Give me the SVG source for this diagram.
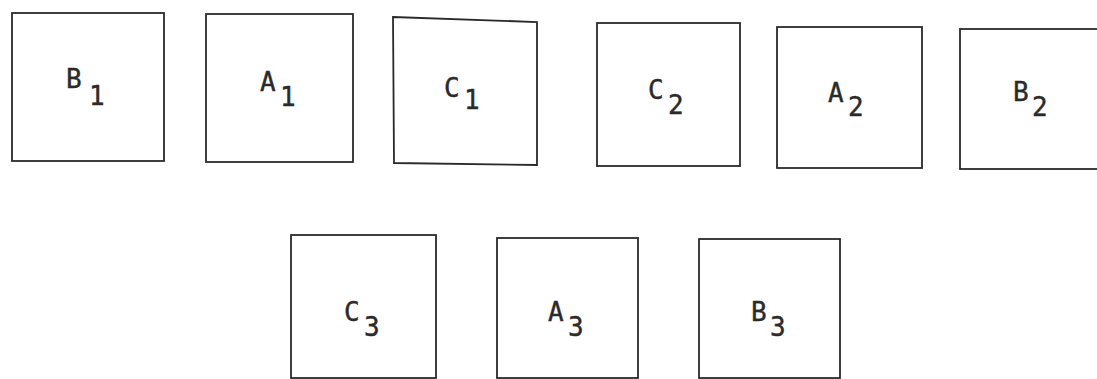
<svg xmlns="http://www.w3.org/2000/svg" width="1097" height="379" viewBox="0 0 1097 379">
<style>
.box{fill:none;stroke:#2a2a2a;stroke-width:1.8}
.lbl{font-family:"DejaVu Sans Mono","Liberation Mono",monospace;font-size:26px;fill:#2a2a2a;stroke:#2a2a2a;stroke-width:0.4}
</style>
<rect width="1097" height="379" fill="#ffffff"/>
<g id="B1"><rect class="box" x="12" y="13" width="152" height="148"/><text class="lbl" x="66" y="88">B<tspan x="89" y="105">1</tspan></text></g>
<g id="A1"><rect class="box" x="206" y="14" width="147" height="148"/><text class="lbl" x="260" y="91">A<tspan x="280" y="106">1</tspan></text></g>
<g id="C1"><polygon class="box" points="393,17 537,22 537,165 394,163"/><text class="lbl" x="444" y="97">C<tspan x="464" y="109">1</tspan></text></g>
<g id="C2"><rect class="box" x="597" y="23" width="143" height="143"/><text class="lbl" x="648" y="99">C<tspan x="668" y="114">2</tspan></text></g>
<g id="A2"><rect class="box" x="777" y="27" width="145" height="141"/><text class="lbl" x="828" y="102">A<tspan x="848" y="116">2</tspan></text></g>
<g id="B2"><rect class="box" x="960" y="29" width="145" height="140"/><text class="lbl" x="1013" y="101">B<tspan x="1032" y="116">2</tspan></text></g>
<g id="C3"><rect class="box" x="291" y="235" width="145" height="143"/><text class="lbl" x="344" y="321">C<tspan x="364" y="336">3</tspan></text></g>
<g id="A3"><rect class="box" x="497" y="238" width="141" height="140"/><text class="lbl" x="548" y="321">A<tspan x="568" y="336">3</tspan></text></g>
<g id="B3"><rect class="box" x="699" y="239" width="141" height="139"/><text class="lbl" x="751" y="321">B<tspan x="770" y="336">3</tspan></text></g>
<g id="connectors"></g>
</svg>
